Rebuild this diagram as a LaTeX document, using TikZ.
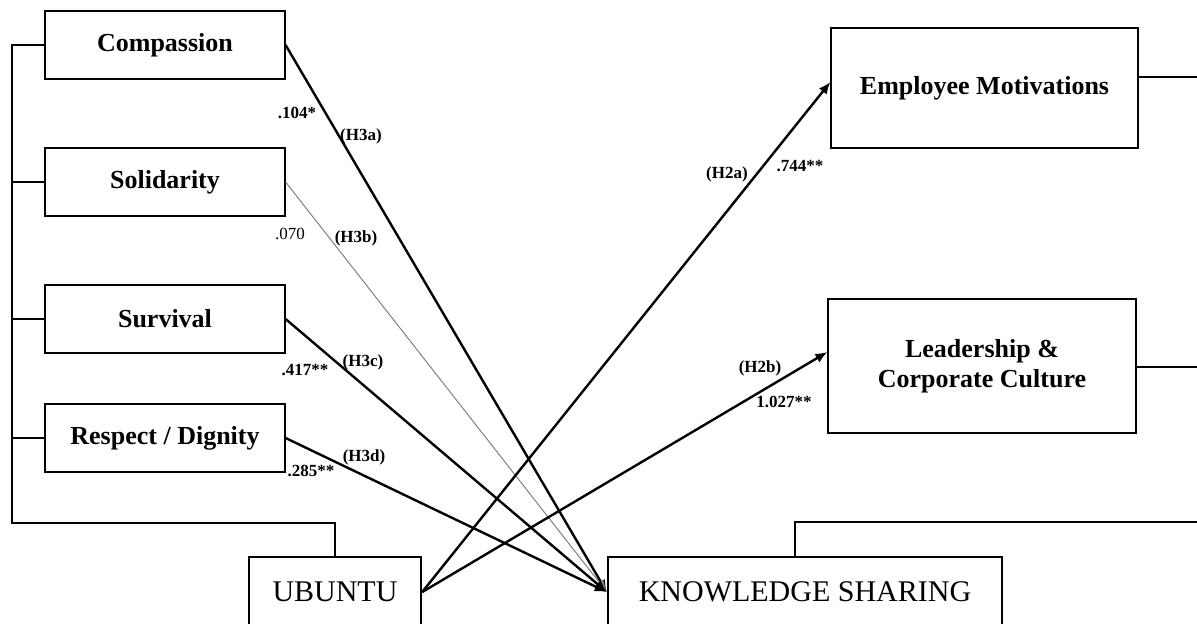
\documentclass[tikz,border=0pt]{standalone}
\usepackage{fontspec}
\setmainfont{Liberation Serif}
\usetikzlibrary{arrows.meta}

\tikzset{
  factor/.style={draw, line width=0.6pt, minimum width=120pt, minimum height=34pt,
    font=\fontsize{13}{15}\selectfont\bfseries, align=center},
  outcome/.style={draw, line width=0.6pt, font=\fontsize{13}{15}\selectfont\bfseries, align=center},
  construct/.style={draw, line width=1.2pt, minimum height=35pt, font=\fontsize{15}{17}\selectfont},
  effect/.style={line width=1.2pt, -{Latex[length=6pt,width=5pt]}},
  weakeffect/.style={line width=0.5pt, gray, -{Latex[length=6pt,width=5pt]}},
  bracket/.style={line width=0.6pt},
  coef/.style={font=\fontsize{8.5}{10}\selectfont\bfseries, inner sep=0pt},
}

\begin{document}
\begin{tikzpicture}[x=0.5pt, y=-0.5pt]
  \clip (0,0) rectangle (1197,623);

  % Ubuntu factors
  \node[factor] (comp) at (165,45) {Compassion};
  \node[factor] (soli) at (165,182) {Solidarity};
  \node[factor] (surv) at (165,319) {Survival};
  \node[factor] (resp) at (165,438) {Respect / Dignity};

  % main constructs
  \node[construct, minimum width=86pt] (ubuntu) at (335,592) {UBUNTU};
  \node[construct, minimum width=197pt] (ks) at (805,592) {KNOWLEDGE SHARING};

  % knowledge sharing factors
  \node[outcome, minimum width=153.5pt, minimum height=60pt] (em) at (984.5,88) {Employee Motivations};
  \node[outcome, minimum width=154pt, minimum height=67pt] (lc) at (982,366) {Leadership \&\\Corporate Culture};

  % left bracket
  \coordinate (ltop) at (12,45);
  \coordinate (lbot) at (12,523);
  \draw[bracket] (comp.west) -- (ltop) -- (lbot) -| (ubuntu.north);
  \draw[bracket] (soli.west) -- (soli.west -| ltop);
  \draw[bracket] (surv.west) -- (surv.west -| ltop);
  \draw[bracket] (resp.west) -- (resp.west -| ltop);

  % right brackets
  \coordinate (rbus) at (1197,522);
  \coordinate (emout) at (1197,77);
  \coordinate (lcout) at (1197,367);
  \draw[bracket] (emout -| em.east) -- (emout);
  \draw[bracket] (lcout -| lc.east) -- (lcout);
  \draw[bracket] ([xshift=-5pt]ks.north) |- (rbus);

  % paths to knowledge sharing
  \draw[effect] (comp.east) -- (ks.west);
  \draw[weakeffect] (soli.east) -- (ks.west);
  \draw[effect] (surv.east) -- (ks.west);
  \draw[effect] (resp.east) -- (ks.west);

  % paths from ubuntu
  \draw[effect] (ubuntu.east) -- ([yshift=3pt]em.west);
  \draw[effect] (ubuntu.east) -- ([yshift=7pt]lc.west);

  % coefficients
  \node[coef] (c3a) at (297,113) {.104*};
  \node[coef] (h3a) at (361,136) {(H3a)};
  \node[coef, font=\fontsize{8.5}{10}\selectfont] (c3b) at (290,234) {.070};
  \node[coef] (h3b) at (356,238) {(H3b)};
  \node[coef] (c3c) at (305,370) {.417**};
  \node[coef] (h3c) at (363,362) {(H3c)};
  \node[coef] (c3d) at (311,471) {.285**};
  \node[coef] (h3d) at (364,457) {(H3d)};
  \node[coef] (h2a) at (727,174) {(H2a)};
  \node[coef] (c2a) at (800,166) {.744**};
  \node[coef] (h2b) at (760,368) {(H2b)};
  \node[coef] (c2b) at (784,402) {1.027**};
\end{tikzpicture}
\end{document}
